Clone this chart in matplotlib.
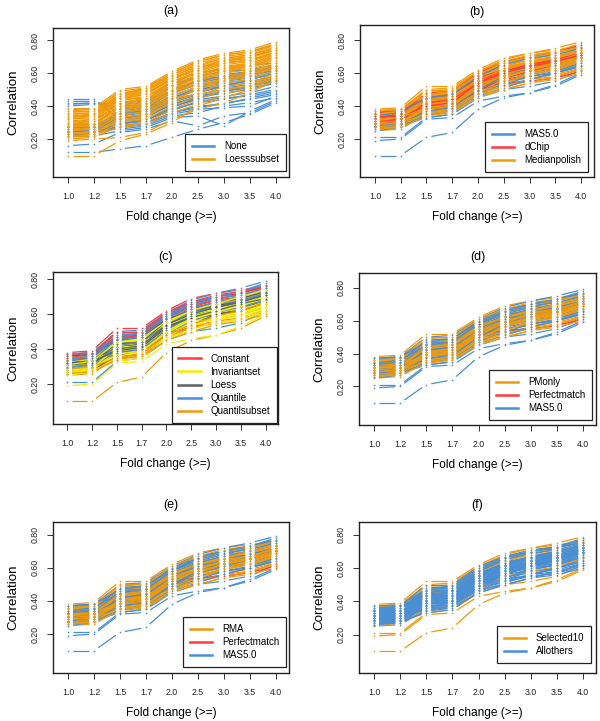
import numpy as np
import matplotlib
matplotlib.use('Agg')
import matplotlib.pyplot as plt
from matplotlib.collections import LineCollection
from matplotlib.lines import Line2D

plt.rcParams['font.family'] = ['Liberation Sans', 'DejaVu Sans']

fold_labels = ['1.0', '1.2', '1.5', '1.7', '2.0', '2.5', '3.0', '3.5', '4.0']
y_ticks = [0.20, 0.40, 0.60, 0.80]

# panel (a): correlation per fold-change cutoff, split by background handling
bg_none = [
    [0.12, 0.12, 0.14, 0.16, 0.21, 0.26, 0.30, 0.35, 0.42],
    [0.16, 0.17, 0.24, 0.26, 0.31, 0.28, 0.34, 0.36, 0.43],
    [0.22, 0.22, 0.25, 0.27, 0.33, 0.34, 0.28, 0.37, 0.44],
    [0.23, 0.23, 0.27, 0.29, 0.35, 0.38, 0.39, 0.40, 0.46],
    [0.24, 0.24, 0.28, 0.30, 0.36, 0.40, 0.41, 0.45, 0.48],
    [0.25, 0.26, 0.29, 0.32, 0.38, 0.42, 0.44, 0.47, 0.50],
    [0.22, 0.23, 0.30, 0.31, 0.40, 0.44, 0.46, 0.48, 0.52],
    [0.26, 0.27, 0.31, 0.33, 0.41, 0.45, 0.48, 0.50, 0.54],
    [0.24, 0.25, 0.32, 0.34, 0.42, 0.47, 0.50, 0.52, 0.55],
    [0.27, 0.27, 0.33, 0.35, 0.43, 0.48, 0.52, 0.54, 0.57],
    [0.23, 0.24, 0.34, 0.36, 0.44, 0.50, 0.53, 0.55, 0.58],
    [0.25, 0.26, 0.35, 0.37, 0.45, 0.51, 0.54, 0.56, 0.60],
    [0.28, 0.28, 0.36, 0.38, 0.46, 0.52, 0.55, 0.57, 0.61],
    [0.26, 0.27, 0.37, 0.39, 0.48, 0.53, 0.56, 0.58, 0.62],
    [0.24, 0.25, 0.38, 0.40, 0.50, 0.55, 0.57, 0.60, 0.63],
    [0.29, 0.29, 0.40, 0.41, 0.52, 0.57, 0.59, 0.61, 0.64],
    [0.42, 0.42, 0.41, 0.42, 0.53, 0.58, 0.61, 0.62, 0.65],
    [0.43, 0.43, 0.36, 0.37, 0.45, 0.50, 0.51, 0.53, 0.56],
    [0.44, 0.44, 0.32, 0.34, 0.41, 0.46, 0.49, 0.51, 0.54],
    [0.40, 0.41, 0.42, 0.43, 0.55, 0.60, 0.63, 0.65, 0.66],
    [0.25, 0.25, 0.26, 0.28, 0.34, 0.36, 0.40, 0.42, 0.45],
    [0.27, 0.28, 0.30, 0.32, 0.37, 0.43, 0.45, 0.46, 0.49],
    [0.26, 0.26, 0.32, 0.35, 0.44, 0.50, 0.52, 0.56, 0.60],
    [0.23, 0.24, 0.29, 0.31, 0.39, 0.45, 0.49, 0.52, 0.56],
    [0.28, 0.29, 0.34, 0.37, 0.47, 0.54, 0.57, 0.59, 0.62],
    [0.41, 0.42, 0.39, 0.40, 0.49, 0.55, 0.58, 0.60, 0.64],
    [0.24, 0.25, 0.27, 0.29, 0.36, 0.39, 0.42, 0.44, 0.47],
    [0.27, 0.27, 0.36, 0.38, 0.49, 0.56, 0.58, 0.61, 0.63],
]
bg_loesssubset = [
    [0.10, 0.10, 0.19, 0.23, 0.30, 0.40, 0.45, 0.50, 0.55],
    [0.19, 0.20, 0.21, 0.24, 0.32, 0.38, 0.42, 0.48, 0.56],
    [0.20, 0.21, 0.28, 0.30, 0.38, 0.44, 0.50, 0.52, 0.58],
    [0.21, 0.22, 0.30, 0.32, 0.40, 0.46, 0.52, 0.54, 0.60],
    [0.22, 0.23, 0.32, 0.34, 0.42, 0.48, 0.54, 0.56, 0.62],
    [0.24, 0.24, 0.33, 0.35, 0.44, 0.50, 0.55, 0.58, 0.63],
    [0.25, 0.26, 0.34, 0.37, 0.46, 0.52, 0.57, 0.60, 0.65],
    [0.26, 0.27, 0.36, 0.38, 0.47, 0.54, 0.58, 0.61, 0.66],
    [0.27, 0.28, 0.37, 0.40, 0.48, 0.55, 0.60, 0.62, 0.67],
    [0.28, 0.29, 0.38, 0.41, 0.50, 0.56, 0.61, 0.63, 0.68],
    [0.29, 0.30, 0.39, 0.42, 0.51, 0.57, 0.62, 0.64, 0.69],
    [0.30, 0.31, 0.40, 0.43, 0.52, 0.58, 0.63, 0.65, 0.70],
    [0.31, 0.32, 0.41, 0.44, 0.53, 0.59, 0.64, 0.66, 0.71],
    [0.32, 0.33, 0.42, 0.45, 0.54, 0.60, 0.65, 0.67, 0.72],
    [0.33, 0.34, 0.43, 0.46, 0.55, 0.61, 0.66, 0.68, 0.73],
    [0.34, 0.35, 0.44, 0.47, 0.56, 0.62, 0.67, 0.69, 0.74],
    [0.35, 0.36, 0.45, 0.48, 0.57, 0.63, 0.68, 0.70, 0.75],
    [0.36, 0.37, 0.46, 0.49, 0.58, 0.64, 0.69, 0.71, 0.76],
    [0.37, 0.38, 0.48, 0.50, 0.59, 0.66, 0.70, 0.72, 0.77],
    [0.38, 0.38, 0.49, 0.51, 0.60, 0.67, 0.71, 0.73, 0.78],
    [0.39, 0.39, 0.50, 0.52, 0.61, 0.68, 0.72, 0.74, 0.79],
    [0.23, 0.25, 0.35, 0.36, 0.45, 0.47, 0.50, 0.53, 0.59],
    [0.27, 0.29, 0.40, 0.40, 0.49, 0.53, 0.56, 0.59, 0.64],
    [0.30, 0.32, 0.45, 0.45, 0.55, 0.60, 0.62, 0.65, 0.70],
    [0.33, 0.35, 0.47, 0.49, 0.58, 0.64, 0.66, 0.68, 0.72],
    [0.21, 0.23, 0.27, 0.29, 0.36, 0.41, 0.47, 0.51, 0.57],
    [0.29, 0.31, 0.42, 0.44, 0.53, 0.61, 0.66, 0.68, 0.72],
    [0.35, 0.36, 0.47, 0.50, 0.59, 0.65, 0.69, 0.71, 0.75],
    [0.25, 0.27, 0.36, 0.39, 0.49, 0.56, 0.61, 0.64, 0.69],
    [0.32, 0.34, 0.45, 0.47, 0.57, 0.62, 0.67, 0.70, 0.74],
    [0.37, 0.37, 0.47, 0.51, 0.60, 0.67, 0.71, 0.73, 0.77],
    [0.23, 0.24, 0.31, 0.33, 0.43, 0.51, 0.56, 0.59, 0.64],
    [0.28, 0.30, 0.39, 0.42, 0.50, 0.58, 0.63, 0.66, 0.71],
    [0.34, 0.35, 0.46, 0.48, 0.56, 0.63, 0.68, 0.70, 0.74],
]

# panels (b)-(f): same curves, coloured by a different preprocessing step
curves = [
    [0.10, 0.10, 0.21, 0.24, 0.38, 0.45, 0.48, 0.52, 0.59],
    [0.19, 0.20, 0.32, 0.33, 0.43, 0.46, 0.48, 0.53, 0.60],
    [0.21, 0.21, 0.33, 0.35, 0.45, 0.50, 0.52, 0.55, 0.62],
    [0.25, 0.26, 0.35, 0.36, 0.47, 0.52, 0.55, 0.57, 0.63],
    [0.26, 0.27, 0.37, 0.38, 0.49, 0.55, 0.58, 0.60, 0.66],
    [0.27, 0.28, 0.34, 0.38, 0.48, 0.53, 0.56, 0.60, 0.64],
    [0.28, 0.29, 0.36, 0.40, 0.50, 0.57, 0.60, 0.63, 0.68],
    [0.28, 0.30, 0.38, 0.41, 0.51, 0.56, 0.59, 0.62, 0.67],
    [0.29, 0.30, 0.40, 0.42, 0.52, 0.58, 0.62, 0.64, 0.69],
    [0.30, 0.31, 0.39, 0.39, 0.50, 0.55, 0.57, 0.59, 0.63],
    [0.30, 0.32, 0.41, 0.44, 0.53, 0.59, 0.63, 0.65, 0.70],
    [0.31, 0.32, 0.43, 0.45, 0.54, 0.60, 0.62, 0.66, 0.71],
    [0.32, 0.33, 0.42, 0.43, 0.52, 0.57, 0.61, 0.63, 0.67],
    [0.33, 0.33, 0.42, 0.44, 0.52, 0.54, 0.55, 0.57, 0.61],
    [0.32, 0.34, 0.44, 0.47, 0.56, 0.61, 0.64, 0.67, 0.72],
    [0.33, 0.35, 0.45, 0.46, 0.55, 0.62, 0.65, 0.68, 0.72],
    [0.34, 0.35, 0.44, 0.46, 0.56, 0.60, 0.63, 0.66, 0.70],
    [0.35, 0.36, 0.46, 0.47, 0.57, 0.63, 0.66, 0.69, 0.73],
    [0.35, 0.36, 0.47, 0.48, 0.58, 0.64, 0.66, 0.68, 0.72],
    [0.36, 0.37, 0.48, 0.49, 0.59, 0.65, 0.68, 0.70, 0.74],
    [0.37, 0.38, 0.49, 0.50, 0.60, 0.66, 0.69, 0.71, 0.75],
    [0.38, 0.39, 0.52, 0.52, 0.62, 0.69, 0.72, 0.74, 0.76],
    [0.36, 0.38, 0.50, 0.51, 0.61, 0.68, 0.72, 0.75, 0.79],
    [0.30, 0.31, 0.45, 0.46, 0.58, 0.66, 0.70, 0.72, 0.76],
    [0.29, 0.31, 0.40, 0.43, 0.55, 0.62, 0.67, 0.70, 0.74],
    [0.27, 0.29, 0.38, 0.40, 0.52, 0.58, 0.64, 0.66, 0.70],
    [0.26, 0.28, 0.36, 0.37, 0.49, 0.54, 0.60, 0.62, 0.66],
    [0.33, 0.34, 0.40, 0.41, 0.50, 0.53, 0.58, 0.60, 0.65],
    [0.31, 0.33, 0.41, 0.42, 0.53, 0.60, 0.64, 0.67, 0.71],
    [0.34, 0.36, 0.43, 0.44, 0.54, 0.61, 0.66, 0.69, 0.73],
    [0.28, 0.30, 0.37, 0.39, 0.48, 0.52, 0.56, 0.58, 0.62],
    [0.25, 0.27, 0.35, 0.37, 0.47, 0.55, 0.58, 0.61, 0.66],
    [0.30, 0.32, 0.44, 0.45, 0.55, 0.62, 0.65, 0.68, 0.72],
    [0.32, 0.34, 0.41, 0.43, 0.51, 0.59, 0.62, 0.65, 0.70],
    [0.29, 0.30, 0.39, 0.41, 0.49, 0.56, 0.61, 0.64, 0.68],
    [0.27, 0.28, 0.33, 0.35, 0.46, 0.51, 0.56, 0.60, 0.64],
    [0.37, 0.38, 0.46, 0.48, 0.58, 0.64, 0.68, 0.72, 0.77],
    [0.30, 0.30, 0.36, 0.38, 0.47, 0.50, 0.54, 0.58, 0.62],
    [0.35, 0.37, 0.44, 0.45, 0.55, 0.59, 0.62, 0.65, 0.69],
    [0.33, 0.34, 0.39, 0.40, 0.49, 0.57, 0.61, 0.65, 0.70],
    [0.31, 0.33, 0.43, 0.44, 0.56, 0.63, 0.67, 0.69, 0.73],
    [0.34, 0.35, 0.47, 0.48, 0.59, 0.66, 0.70, 0.72, 0.76],
    [0.29, 0.31, 0.42, 0.44, 0.54, 0.61, 0.65, 0.68, 0.72],
    [0.32, 0.33, 0.46, 0.47, 0.57, 0.63, 0.67, 0.70, 0.74],
    [0.26, 0.28, 0.39, 0.41, 0.51, 0.57, 0.62, 0.65, 0.69],
    [0.36, 0.37, 0.45, 0.47, 0.57, 0.62, 0.65, 0.67, 0.71],
    [0.28, 0.29, 0.37, 0.39, 0.50, 0.58, 0.63, 0.66, 0.71],
    [0.33, 0.35, 0.48, 0.49, 0.60, 0.67, 0.70, 0.73, 0.77],
    [0.30, 0.31, 0.38, 0.40, 0.51, 0.59, 0.64, 0.67, 0.72],
    [0.35, 0.37, 0.50, 0.50, 0.61, 0.67, 0.71, 0.73, 0.75],
    [0.27, 0.29, 0.41, 0.42, 0.53, 0.60, 0.63, 0.66, 0.70],
    [0.31, 0.32, 0.40, 0.42, 0.54, 0.60, 0.64, 0.67, 0.71],
    [0.34, 0.36, 0.45, 0.47, 0.58, 0.65, 0.69, 0.71, 0.75],
    [0.29, 0.30, 0.35, 0.37, 0.48, 0.54, 0.59, 0.62, 0.67],
    [0.32, 0.33, 0.39, 0.41, 0.53, 0.58, 0.62, 0.66, 0.69],
    [0.37, 0.38, 0.47, 0.49, 0.59, 0.66, 0.70, 0.73, 0.78],
    [0.26, 0.27, 0.34, 0.36, 0.45, 0.50, 0.54, 0.56, 0.60],
    [0.31, 0.33, 0.44, 0.46, 0.56, 0.62, 0.66, 0.70, 0.74],
]
summarization = ['MAS5.0', 'MAS5.0', 'MAS5.0', 'Medianpolish', 'Medianpolish',
                 'MAS5.0', 'MAS5.0', 'dChip', 'Medianpolish', 'Medianpolish',
                 'dChip', 'Medianpolish', 'Medianpolish', 'dChip', 'MAS5.0',
                 'Medianpolish', 'Medianpolish', 'dChip', 'Medianpolish', 'Medianpolish',
                 'Medianpolish', 'Medianpolish', 'Medianpolish', 'MAS5.0', 'Medianpolish',
                 'dChip', 'Medianpolish', 'MAS5.0', 'dChip', 'Medianpolish',
                 'Medianpolish', 'MAS5.0', 'dChip', 'Medianpolish', 'Medianpolish',
                 'MAS5.0', 'Medianpolish', 'Medianpolish', 'Medianpolish', 'dChip',
                 'Medianpolish', 'Medianpolish', 'dChip', 'Medianpolish', 'Medianpolish',
                 'dChip', 'MAS5.0', 'dChip', 'Medianpolish', 'Medianpolish',
                 'Medianpolish', 'dChip', 'MAS5.0', 'Medianpolish', 'Medianpolish',
                 'Medianpolish', 'Medianpolish', 'Medianpolish']
normalization = ['Quantilsubset', 'Invariantset', 'Quantile', 'Quantilsubset', 'Invariantset',
                 'Constant', 'Loess', 'Invariantset', 'Loess', 'Invariantset',
                 'Quantile', 'Quantile', 'Invariantset', 'Invariantset', 'Quantile',
                 'Loess', 'Invariantset', 'Constant', 'Quantile', 'Constant',
                 'Constant', 'Constant', 'Quantile', 'Quantile', 'Invariantset',
                 'Loess', 'Loess', 'Invariantset', 'Quantile', 'Quantilsubset',
                 'Quantilsubset', 'Invariantset', 'Invariantset', 'Loess', 'Quantile',
                 'Invariantset', 'Constant', 'Invariantset', 'Invariantset', 'Invariantset',
                 'Loess', 'Constant', 'Quantile', 'Quantile', 'Invariantset',
                 'Loess', 'Invariantset', 'Quantile', 'Quantile', 'Constant',
                 'Invariantset', 'Loess', 'Quantile', 'Quantilsubset', 'Loess',
                 'Quantile', 'Quantilsubset', 'Invariantset']
pm_correction = ['MAS5.0', 'MAS5.0', 'MAS5.0', 'PMonly', 'PMonly',
                 'MAS5.0', 'MAS5.0', 'MAS5.0', 'PMonly', 'PMonly',
                 'MAS5.0', 'PMonly', 'PMonly', 'Perfectmatch', 'MAS5.0',
                 'PMonly', 'PMonly', 'PMonly', 'PMonly', 'PMonly',
                 'PMonly', 'PMonly', 'MAS5.0', 'MAS5.0', 'PMonly',
                 'MAS5.0', 'PMonly', 'MAS5.0', 'MAS5.0', 'PMonly',
                 'PMonly', 'MAS5.0', 'MAS5.0', 'PMonly', 'PMonly',
                 'MAS5.0', 'MAS5.0', 'PMonly', 'PMonly', 'PMonly',
                 'PMonly', 'PMonly', 'MAS5.0', 'MAS5.0', 'PMonly',
                 'PMonly', 'MAS5.0', 'MAS5.0', 'PMonly', 'PMonly',
                 'PMonly', 'PMonly', 'MAS5.0', 'PMonly', 'PMonly',
                 'MAS5.0', 'PMonly', 'PMonly']
bg_correction = ['MAS5.0', 'MAS5.0', 'MAS5.0', 'RMA', 'RMA',
                 'MAS5.0', 'MAS5.0', 'RMA', 'RMA', 'RMA',
                 'MAS5.0', 'RMA', 'RMA', 'Perfectmatch', 'MAS5.0',
                 'RMA', 'RMA', 'RMA', 'RMA', 'RMA',
                 'RMA', 'RMA', 'MAS5.0', 'MAS5.0', 'RMA',
                 'MAS5.0', 'RMA', 'MAS5.0', 'MAS5.0', 'RMA',
                 'RMA', 'MAS5.0', 'MAS5.0', 'RMA', 'RMA',
                 'MAS5.0', 'MAS5.0', 'RMA', 'RMA', 'MAS5.0',
                 'RMA', 'RMA', 'MAS5.0', 'MAS5.0', 'RMA',
                 'RMA', 'MAS5.0', 'MAS5.0', 'RMA', 'RMA',
                 'RMA', 'RMA', 'MAS5.0', 'RMA', 'RMA',
                 'MAS5.0', 'RMA', 'RMA']
selected10 = [1, 1, 1, 0, 0, 0, 0, 0, 0, 0,
              0, 0, 0, 0, 0, 0, 0, 0, 0, 1,
              1, 1, 1, 1, 0, 0, 0, 0, 0, 0,
              0, 1, 0, 0, 0, 0, 1, 0, 0, 0,
              0, 0, 0, 0, 0, 0, 0, 0, 0, 0,
              0, 0, 0, 0, 0, 0, 0, 0]

BLUE = '#4A8FD4'
ORANGE = '#F09A0A'
RED = '#FF3B3B'
YELLOW = '#F2EE00'
GRAY = '#606060'

W, H = 600, 721
fig = plt.figure(figsize=(W / 100, H / 100), dpi=100)

GAP = 5.0  # px left open round each point (R type="b")


def add_panel(rect_px, ylim):
    x0, y0, x1, y1 = rect_px
    ax = fig.add_axes([x0 / W, 1 - y1 / H, (x1 - x0) / W, (y1 - y0) / H])
    ax.set_xlim(-0.58, 8.5)
    ax.set_ylim(*ylim)
    return ax


def draw_curve(ax, ys, color):
    x = np.arange(len(ys))
    pts = ax.transData.transform(np.column_stack([x, ys]))
    inv = ax.transData.inverted()
    segs = []
    for i in range(len(ys) - 1):
        d = pts[i + 1] - pts[i]
        t = GAP / np.hypot(*d)
        segs.append(inv.transform([pts[i] + d * t, pts[i + 1] - d * t]))
    ax.add_collection(LineCollection(segs, colors=color, linewidths=0.9))
    ax.plot(x, ys, ls='none', marker='o', ms=1.2, mew=0, color=color)


def style_panel(ax, title, title_px, legend_items, loc_px):
    ax.set_xticks(range(len(fold_labels)))
    ax.set_xticklabels(fold_labels, fontsize=6.3, color='#222222')
    ax.set_yticks(y_ticks)
    ax.set_yticklabels([f'{v:.2f}' for v in y_ticks], fontsize=6.3,
                       rotation=90, va='center', color='#222222')
    ax.tick_params(axis='x', length=4.5, width=0.7, pad=6, color='#333333')
    ax.tick_params(axis='y', length=4.5, width=0.7, pad=5, color='#333333')
    for s in ax.spines.values():
        s.set_linewidth(1.0)
        s.set_color('#222222')
    bb = ax.get_window_extent()
    ax.text(0.5, 1 + title_px / bb.height, title, transform=ax.transAxes,
            ha='center', va='center', fontsize=9)
    ax.set_xlabel('Fold change (>=)', fontsize=8.6)
    ax.xaxis.set_label_coords(0.5, -34 / bb.height)
    ax.set_ylabel('Correlation', fontsize=9.6)
    ax.yaxis.set_label_coords(-34 / bb.width, 0.5)
    handles = [Line2D([], [], color=c, lw=1.8) for _, c in legend_items]
    labels = [n for n, _ in legend_items]
    rx, by = loc_px
    leg = ax.legend(handles, labels, loc='lower right',
                    bbox_to_anchor=(1 - rx / bb.width, by / bb.height),
                    borderaxespad=0, fontsize=7, frameon=True, fancybox=False,
                    edgecolor='#222222', framealpha=1, handlelength=2.3,
                    handletextpad=1.0, labelspacing=0.32, borderpad=0.7)
    leg.get_frame().set_linewidth(0.9)


# (a)
ax = add_panel((53, 28, 289, 177), (-0.03, 0.873))
for ys in bg_none:
    draw_curve(ax, ys, BLUE)
for ys in bg_loesssubset:
    draw_curve(ax, ys, ORANGE)
style_panel(ax, '(a)', 17, [('None', BLUE), ('Loesssubset', ORANGE)], (3, 6))

panels = [
    ('(b)', 13, (360, 25, 594, 177), (-0.03, 0.891), summarization,
     [('MAS5.0', BLUE), ('dChip', RED), ('Medianpolish', ORANGE)], (6, 5)),
    ('(c)', 15, (53, 272, 278, 424), (-0.029, 0.842), normalization,
     [('Constant', RED), ('Invariantset', YELLOW), ('Loess', GRAY),
      ('Quantile', BLUE), ('Quantilsubset', ORANGE)], (1, 1)),
    ('(d)', 16, (359, 273, 596, 425), (-0.035, 0.89), pm_correction,
     [('PMonly', ORANGE), ('Perfectmatch', RED), ('MAS5.0', BLUE)], (4, 5)),
    ('(e)', 17, (53, 522, 289, 673), (-0.035, 0.876), bg_correction,
     [('RMA', ORANGE), ('Perfectmatch', RED), ('MAS5.0', BLUE)], (3, 6)),
    ('(f)', 17, (359, 522, 596, 673), (-0.032, 0.878),
     ['Selected10' if s else 'Allothers' for s in selected10],
     [('Selected10', ORANGE), ('Allothers', BLUE)], (5, 10)),
]

for title, tpx, rect, ylim, groups, items, loc in panels:
    ax = add_panel(rect, ylim)
    cmap = dict(items)
    for ys, g in zip(curves, groups):
        draw_curve(ax, ys, cmap[g])
    style_panel(ax, title, tpx, items, loc)

fig.savefig('out.png', dpi=100, facecolor='white')
